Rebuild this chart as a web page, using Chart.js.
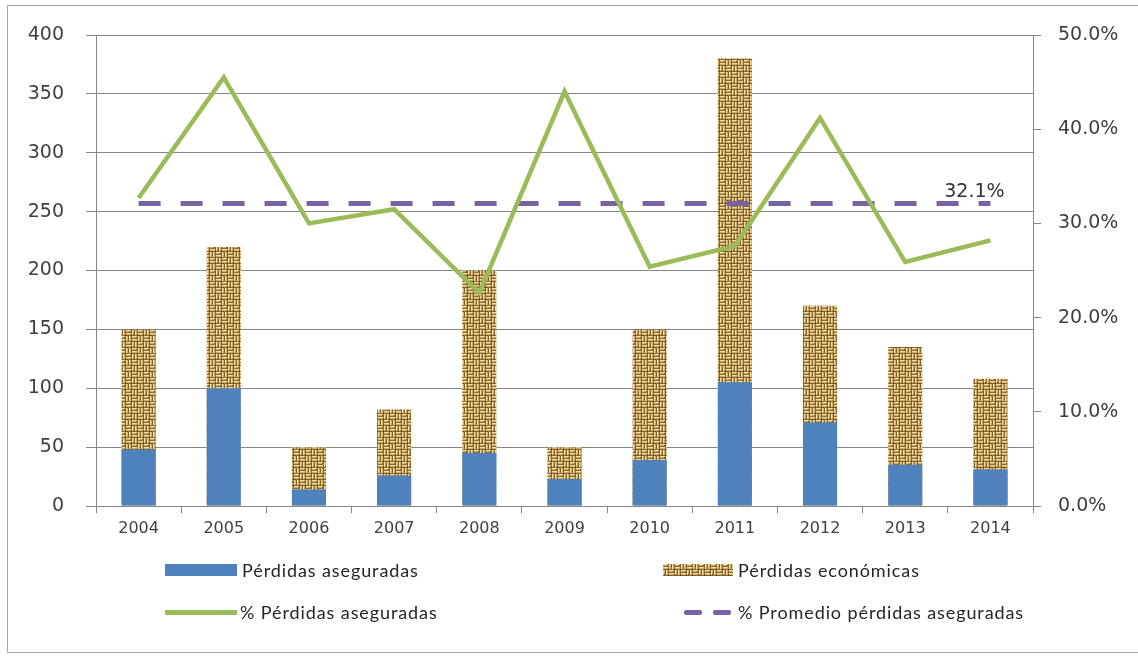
<!DOCTYPE html>
<html lang="es">
<head>
<meta charset="utf-8">
<title>Pérdidas aseguradas y económicas 2004–2014</title>
<script src="https://cdn.jsdelivr.net/npm/chart.js@4.4.1/dist/chart.umd.min.js"></script>
<style>
  html, body { margin: 0; padding: 0; background: #ffffff; }
  #wrap { position: relative; width: 1138px; height: 658px; overflow: hidden; }
  #frame { position: absolute; left: 7px; top: 5px; width: 1140px; height: 646px;
           border: 1px solid #a6a6a6; border-right: none; pointer-events: none; }
  canvas { position: absolute; left: 0; top: 0; }
  .lg { position: absolute; height: 24px; display: flex; align-items: center;
        font-family: Lato, "Open Sans", sans-serif; font-size: 18px; letter-spacing: 0.9px;
        color: #262626; white-space: nowrap; }
  .sw { position: absolute; }
</style>
</head>
<body>
<div id="wrap">
  <canvas id="c" width="1138" height="658"></canvas>
  <div id="frame"></div>
  <div id="legend"></div>
</div>
<script>
// Years on the category axis
const years = ['2004', '2005', '2006', '2007', '2008', '2009', '2010', '2011', '2012', '2013', '2014'];
// Insured losses (left axis)
const insuredLosses = [48, 100, 14, 26, 45, 23, 39, 105, 71, 35, 31];
// Total economic losses (left axis)
const economicLosses = [150, 220, 50, 82, 200, 50, 150, 380, 170, 135, 108];
// Share of losses that were insured, % (right axis)
const insuredPct = [32.7, 45.5, 30.0, 31.5, 22.6, 44.0, 25.4, 27.6, 41.2, 25.9, 28.2];
// Average insured share over the period, %
const avgInsuredPct = [32.1, 32.1, 32.1, 32.1, 32.1, 32.1, 32.1, 32.1, 32.1, 32.1, 32.1];
// Axis tick settings
const leftTicks = { min: 0, max: 400, step: 50 };
const rightTicks = { min: 0, max: 50, step: 10 };

const labels = {
  insured: 'Pérdidas aseguradas',
  economic: 'Pérdidas económicas',
  pct: '% Pérdidas aseguradas',
  avg: '% Promedio pérdidas aseguradas'
};

const BLUE = '#4f81bd';
const GREEN = '#9bbb59';
const PURPLE = '#7862a3';
const GRID = '#868686';

// Woven burlap tile used as the fill for economic losses
function burlapTile() {
  const T = 12, B = 6;
  const c = document.createElement('canvas');
  c.width = T; c.height = T;
  const g = c.getContext('2d');
  g.fillStyle = '#8c6832';
  g.fillRect(0, 0, T, T);
  for (let by = 0; by < T; by += B) {
    for (let bx = 0; bx < T; bx += B) {
      const horizontal = ((bx + by) / B) % 2 === 0;
      for (let k = 0; k < 2; k++) {
        const o = k * 3;
        if (horizontal) {
          g.fillStyle = '#f1dc9f'; g.fillRect(bx, by + o, 5, 1);
          g.fillStyle = '#cfab68'; g.fillRect(bx, by + o + 1, 5, 1);
        } else {
          g.fillStyle = '#f1dc9f'; g.fillRect(bx + o, by, 1, 5);
          g.fillStyle = '#cfab68'; g.fillRect(bx + o + 1, by, 1, 5);
        }
      }
      g.fillStyle = '#4e3819';
      g.fillRect(bx + 5, by + 5, 1, 1);
    }
  }
  // darker fibres scattered through the weave
  g.fillStyle = '#6b4d24';
  [[2, 8], [8, 2], [4, 1], [10, 7], [1, 10], [7, 11]].forEach(([x, y]) => g.fillRect(x, y, 1, 1));
  return c;
}
const tile = burlapTile();
const ctx = document.getElementById('c').getContext('2d');
const burlap = ctx.createPattern(tile, 'repeat');

// Writes the average value next to the last point of the average line
const avgLabel = {
  id: 'avgLabel',
  afterDatasetsDraw(chart) {
    const meta = chart.getDatasetMeta(3);
    const last = meta.data[meta.data.length - 1];
    if (!last) return;
    const c = chart.ctx;
    c.save();
    c.font = '19px "DejaVu Sans", sans-serif';
    c.fillStyle = '#333333';
    c.textAlign = 'center';
    c.textBaseline = 'middle';
    c.fillText(avgInsuredPct[avgInsuredPct.length - 1].toFixed(1) + '%', last.x - 16, last.y - 12);
    c.restore();
  }
};

const tickFont = { family: '"DejaVu Sans", sans-serif', size: 19 };

new Chart(ctx, {
  data: {
    labels: years,
    datasets: [
      { type: 'bar', label: labels.insured, data: insuredLosses, backgroundColor: BLUE,
        yAxisID: 'y', order: 2, barPercentage: 0.4, categoryPercentage: 1.0 },
      { type: 'bar', label: labels.economic, data: economicLosses, backgroundColor: burlap,
        yAxisID: 'y', order: 3, barPercentage: 0.4, categoryPercentage: 1.0 },
      { type: 'line', label: labels.pct, data: insuredPct, borderColor: GREEN, borderWidth: 4.5,
        pointRadius: 0, tension: 0, fill: false, yAxisID: 'y1', order: 0,
        borderJoinStyle: 'miter' },
      { type: 'line', label: labels.avg, data: avgInsuredPct, borderColor: PURPLE, borderWidth: 5,
        borderDash: [22, 20], pointRadius: 0, fill: false, yAxisID: 'y1', order: 1 }
    ]
  },
  options: {
    responsive: false,
    animation: false,
    layout: { padding: { top: 35, left: 0, right: 0, bottom: 0 } },
    plugins: { legend: { display: false }, tooltip: { enabled: false } },
    scales: {
      x: {
        stacked: true,
        offset: true,
        grid: { offset: true, drawOnChartArea: false, color: GRID, tickLength: 7 },
        border: { color: GRID },
        ticks: { font: { family: '"DejaVu Sans", sans-serif', size: 16 }, color: '#404040',
                 padding: 6, maxRotation: 0, autoSkip: false },
        afterFit(s) { s.height = 152; }
      },
      y: {
        position: 'left',
        stacked: false,
        min: leftTicks.min, max: leftTicks.max,
        ticks: { stepSize: leftTicks.step, font: tickFont, color: '#404040', padding: 22 },
        grid: { color: GRID, tickLength: 10 },
        border: { color: GRID },
        afterFit(s) { s.width = 96; }
      },
      y1: {
        position: 'right',
        min: rightTicks.min, max: rightTicks.max,
        ticks: { stepSize: rightTicks.step, font: tickFont, color: '#404040', padding: 17,
                 callback: v => v.toFixed(1) + '%' },
        grid: { drawOnChartArea: false, color: GRID, tickLength: 8 },
        border: { color: GRID },
        afterFit(s) { s.width = 105; }
      }
    }
  },
  plugins: [avgLabel]
});

// Two-row legend under the plot
const legend = document.getElementById('legend');
function addItem(swatchHtml, text, textLeft, cy) {
  legend.insertAdjacentHTML('beforeend', swatchHtml);
  const d = document.createElement('div');
  d.className = 'lg';
  d.style.left = textLeft + 'px';
  d.style.top = (cy - 12) + 'px';
  d.textContent = text;
  legend.appendChild(d);
}
const tileUrl = tile.toDataURL();
addItem(`<div class="sw" style="left:165px;top:564px;width:72px;height:12px;background:${BLUE}"></div>`,
        labels.insured, 242, 570);
addItem(`<div class="sw" style="left:663px;top:564px;width:70px;height:12px;background:url(${tileUrl}) repeat"></div>`,
        labels.economic, 738, 570);
addItem(`<div class="sw" style="left:165px;top:610px;width:72px;height:5px;background:${GREEN}"></div>`,
        labels.pct, 240, 612);
addItem(`<div class="sw" style="left:684px;top:610px;width:18px;height:5px;border-radius:2px;background:${PURPLE}"></div>` +
        `<div class="sw" style="left:713px;top:610px;width:18px;height:5px;border-radius:2px;background:${PURPLE}"></div>`,
        labels.avg, 738, 612);
</script>
</body>
</html>
